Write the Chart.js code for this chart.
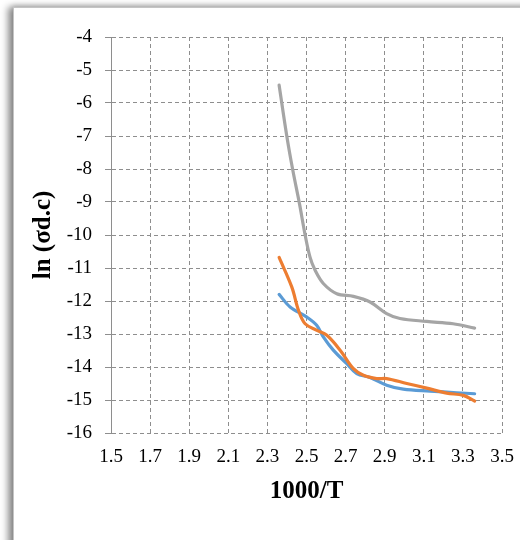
<!DOCTYPE html>
<html>
<head>
<meta charset="utf-8">
<title>ln(σd.c) vs 1000/T</title>
<script src="https://cdn.jsdelivr.net/npm/chart.js@4/dist/chart.umd.min.js"></script>
<style>
  html, body { margin: 0; padding: 0; background: #ffffff; }
  #wrap { position: relative; width: 520px; height: 540px; overflow: hidden; }
  #frame {
    position: absolute; left: 13px; top: 7px; width: 560px; height: 580px;
    border: 1px solid #c4c4c4; background: #ffffff;
    box-shadow: -5px 0 7px rgba(0, 0, 0, 0.45), 0 -2px 5px rgba(0, 0, 0, 0.12);
  }
  #chart { position: absolute; left: 0; top: 0; }
</style>
</head>
<body>
<div id="wrap">
  <div id="frame"></div>
  <canvas id="chart" width="520" height="540"></canvas>
</div>
<script>
// ===================================================
// ln(σd.c) vs 1000/T - three smoothed series
// ===================================================

// Axis ticks
var xTickValues = [1.5, 1.7, 1.9, 2.1, 2.3, 2.5, 2.7, 2.9, 3.1, 3.3, 3.5];
var yTickValues = [-16, -15, -14, -13, -12, -11, -10, -9, -8, -7, -6, -5, -4];

// Blue series
var blueX = [2.36, 2.416, 2.50, 2.553, 2.586, 2.637, 2.706, 2.757, 2.825, 2.91, 2.995, 3.132, 3.268, 3.36];
var blueY = [-11.80, -12.18, -12.48, -12.74, -13.09, -13.49, -13.90, -14.20, -14.32, -14.55, -14.67, -14.73, -14.78, -14.81];

// Orange series
var orangeX = [2.36, 2.425, 2.459, 2.493, 2.553, 2.604, 2.672, 2.74, 2.791, 2.859, 2.91, 3.013, 3.115, 3.217, 3.302, 3.36];
var orangeY = [-10.68, -11.58, -12.28, -12.69, -12.89, -13.04, -13.49, -14.05, -14.25, -14.35, -14.35, -14.50, -14.64, -14.79, -14.86, -15.03];

// Gray series
var grayX = [2.36, 2.40, 2.43, 2.464, 2.493, 2.518, 2.544, 2.586, 2.655, 2.74, 2.825, 2.91, 2.978, 3.115, 3.25, 3.36];
var grayY = [-5.46, -7.03, -8.04, -9.05, -10.0, -10.67, -11.07, -11.47, -11.78, -11.86, -12.03, -12.38, -12.53, -12.62, -12.69, -12.82];

var FONT = '"Liberation Serif", "Times New Roman", serif';
var GRID = '#8e8e8e';

/**
 * Zip x / y arrays into scatter points
 */
function toPoints(xs, ys) {
  return xs.map(function(x, i) {
    return { x: x, y: ys[i] };
  });
}

function lineSet(label, xs, ys, color, order) {
  return {
    label: label,
    data: toPoints(xs, ys),
    showLine: true,
    borderColor: color,
    backgroundColor: color,
    borderWidth: 3.2,
    borderCapStyle: 'round',
    pointRadius: 0,
    tension: 0.35,
    order: order
  };
}

var ctx = document.getElementById('chart').getContext('2d');

new Chart(ctx, {
  type: 'scatter',
  data: {
    datasets: [
      lineSet('Series1', blueX, blueY, '#5b9bd5', 2),
      lineSet('Series2', orangeX, orangeY, '#ed7d31', 1),
      lineSet('Series3', grayX, grayY, '#a5a5a5', 3)
    ]
  },
  options: {
    responsive: false,
    animation: false,
    layout: {
      padding: { left: 29, right: 18, top: 37, bottom: 33 }
    },
    plugins: {
      legend: { display: false },
      tooltip: { enabled: false }
    },
    scales: {
      x: {
        type: 'linear',
        min: 1.5,
        max: 3.5,
        afterBuildTicks: function(scale) {
          scale.ticks = xTickValues.map(function(v) { return { value: v }; });
        },
        afterFit: function(scale) {
          // fixed box: no extra room for edge labels
          scale.height = 74;
          scale.paddingLeft = 0;
          scale.paddingRight = 0;
        },
        grid: {
          color: GRID,
          lineWidth: 1,
          drawTicks: false
        },
        border: {
          display: false,
          dash: [4, 3]
        },
        ticks: {
          padding: 13,
          color: '#000000',
          font: { family: FONT, size: 19 },
          callback: function(value) {
            return Number(value).toFixed(1);
          }
        },
        title: {
          display: true,
          text: '1000/T',
          color: '#000000',
          padding: 0,
          font: { family: FONT, size: 25, weight: 'bold' }
        }
      },
      y: {
        type: 'linear',
        min: -16,
        max: -4,
        afterBuildTicks: function(scale) {
          scale.ticks = yTickValues.map(function(v) { return { value: v }; });
        },
        afterFit: function(scale) {
          scale.width = 82;
          scale.paddingTop = 0;
          scale.paddingBottom = 0;
        },
        grid: {
          color: GRID,
          lineWidth: 1,
          drawTicks: true,
          tickLength: 6
        },
        border: {
          display: true,
          color: GRID,
          width: 1,
          dash: [4, 3]
        },
        ticks: {
          padding: 13,
          color: '#000000',
          font: { family: FONT, size: 19 }
        },
        title: {
          display: true,
          text: 'ln (σd.c)',
          color: '#000000',
          padding: 0,
          font: { family: FONT, size: 25, weight: 'bold' }
        }
      }
    }
  }
});
</script>
</body>
</html>
